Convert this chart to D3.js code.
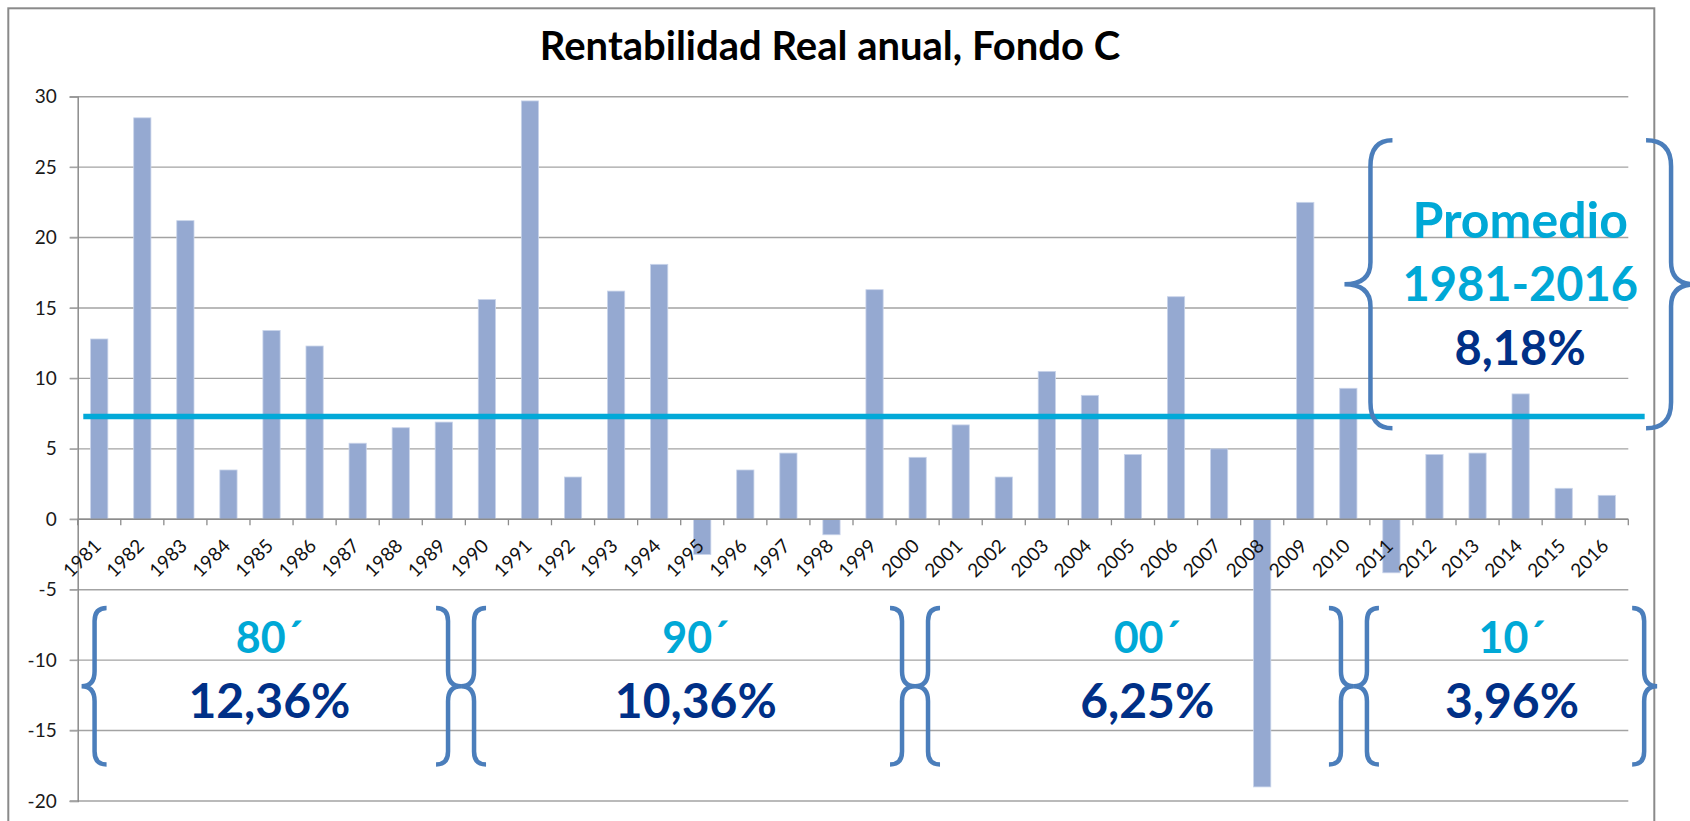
<!DOCTYPE html>
<html>
<head>
<meta charset="utf-8">
<script src="https://cdn.jsdelivr.net/npm/d3@7"></script>
<style>
  body { margin: 0; background: #fff; }
  svg { display: block; }
  text { font-family: Lato, "Open Sans", sans-serif; }
</style>
</head>
<body>
<svg id="chart" width="1690" height="821"></svg>
<script>
// datos
const years = ["1981","1982","1983","1984","1985","1986","1987","1988","1989","1990",
  "1991","1992","1993","1994","1995","1996","1997","1998","1999","2000",
  "2001","2002","2003","2004","2005","2006","2007","2008","2009","2010",
  "2011","2012","2013","2014","2015","2016"];
const rentabilidad = [12.8, 28.5, 21.2, 3.5, 13.4, 12.3, 5.4, 6.5, 6.9, 15.6,
  29.7, 3.0, 16.2, 18.1, -2.5, 3.5, 4.7, -1.1, 16.3, 4.4,
  6.7, 3.0, 10.5, 8.8, 4.6, 15.8, 5.0, -19.0, 22.5, 9.3,
  -3.8, 4.6, 4.7, 8.9, 2.2, 1.7];
const yTicks = [-20, -15, -10, -5, 0, 5, 10, 15, 20, 25, 30];
const lineaPromedio = 7.3;
const decadas = ["80´", "90´", "00´", "10´"];
const promediosDecada = ["12,36%", "10,36%", "6,25%", "3,96%"];
const promedioTotal = ["Promedio", "1981-2016", "8,18%"];
const titulo = "Rentabilidad Real anual, Fondo C";

const svg = d3.select('#chart');
const left = 77.7, right = 1628.3;

const x = d3.scaleBand()
  .domain(years)
  .range([left, right])
  .paddingInner(0.6)
  .paddingOuter(0.3);

// posicion continua en unidades de categoria (para anotaciones)
const xc = d3.scaleLinear().domain([0, years.length]).range([left, right]);

const y = d3.scaleLinear().domain([-20, 30]).range([801, 96.7]);

// marco del grafico
svg.append('rect')
  .attr('x', 8.3).attr('y', 8.3)
  .attr('width', 1646).attr('height', 840)
  .attr('fill', '#fff')
  .attr('stroke', '#8a8a8a')
  .attr('stroke-width', 2);

svg.append('text')
  .attr('x', 830).attr('y', 60)
  .attr('text-anchor', 'middle')
  .attr('font-size', 40)
  .attr('font-weight', 'bold')
  .attr('fill', '#000')
  .text(titulo);

// grilla
svg.append('g')
  .selectAll('line')
  .data(yTicks)
  .enter().append('line')
  .attr('x1', left - 8).attr('x2', right)
  .attr('y1', d => y(d)).attr('y2', d => y(d))
  .attr('stroke', '#a3a3a3')
  .attr('stroke-width', 1.4);

// eje y
const yAxis = svg.append('g')
  .attr('transform', `translate(${left},0)`)
  .call(d3.axisLeft(y).tickValues(yTicks).tickFormat(d => String(d)).tickSize(8).tickPadding(13));
yAxis.select('.domain').attr('stroke', '#8c8c8c').attr('stroke-width', 1.5);
yAxis.selectAll('.tick line').attr('stroke', '#a3a3a3');
yAxis.selectAll('.tick text')
  .attr('font-size', 19)
  .attr('fill', '#1a1a1a')
  .style('font-family', 'Lato, sans-serif');

// barras
svg.append('g')
  .selectAll('rect')
  .data(rentabilidad)
  .enter().append('rect')
  .attr('x', (d, i) => x(years[i]))
  .attr('width', x.bandwidth())
  .attr('y', d => y(Math.max(0, d)))
  .attr('height', d => Math.abs(y(d) - y(0)))
  .attr('fill', '#95a9d1')
  .attr('stroke', '#c9d4ea')
  .attr('stroke-width', 0.8);

// eje x
svg.append('line')
  .attr('x1', left).attr('x2', right)
  .attr('y1', y(0)).attr('y2', y(0))
  .attr('stroke', '#8c8c8c')
  .attr('stroke-width', 1.5);

svg.append('g')
  .selectAll('line')
  .data(d3.range(years.length + 1))
  .enter().append('line')
  .attr('x1', d => xc(d)).attr('x2', d => xc(d))
  .attr('y1', y(0)).attr('y2', y(0) + 6)
  .attr('stroke', '#8c8c8c')
  .attr('stroke-width', 1.3);

svg.append('g')
  .selectAll('text')
  .data(years)
  .enter().append('text')
  .attr('transform', d => `translate(${x(d) + x.bandwidth() / 2 + 3},${y(0) + 28}) rotate(-45)`)
  .attr('text-anchor', 'end')
  .attr('font-size', 19)
  .attr('fill', '#111')
  .text(d => d);

// linea promedio
svg.append('line')
  .attr('x1', xc(0.13)).attr('x2', xc(36.38))
  .attr('y1', y(lineaPromedio)).attr('y2', y(lineaPromedio))
  .attr('stroke', '#02a9d8')
  .attr('stroke-width', 5.5);

// llaves: punta -> tallo -> pico central
function llave(tip, stem, point, y0, y1, rEnd, rMid) {
  const ym = (y0 + y1) / 2;
  return `M${tip},${y0} Q${stem},${y0} ${stem},${y0 + rEnd} L${stem},${ym - rMid} ` +
    `Q${stem},${ym} ${point},${ym} Q${stem},${ym} ${stem},${ym + rMid} ` +
    `L${stem},${y1 - rEnd} Q${stem},${y1} ${tip},${y1}`;
}

const braceG = svg.append('g')
  .attr('fill', 'none')
  .attr('stroke', '#4b7ebb')
  .attr('stroke-width', 4.5);

// llaves de decadas
const limites = [0.09, 8.9, 19.44, 29.63, 36.67];
const yb0 = y(-6.3), yb1 = y(-17.4);
limites.forEach((u, i) => {
  const p = xc(u);
  if (i > 0) braceG.append('path').attr('d', llave(p - 25, p - 13, p, yb0, yb1, 13, 15));
  if (i < limites.length - 1) braceG.append('path').attr('d', llave(p + 25, p + 13, p, yb0, yb1, 13, 15));
});

// llaves del promedio
const yp0 = y(26.9), yp1 = y(6.46);
const pl = xc(29.41), pr = xc(37.55);
braceG.append('path').attr('d', llave(pl + 48, pl + 26, pl, yp0, yp1, 26, 22));
braceG.append('path').attr('d', llave(pr - 49, pr - 24, pr, yp0, yp1, 26, 22));

// textos de decadas
const centros = [4.45, 14.35, 24.83, 33.3];
svg.append('g')
  .selectAll('text')
  .data(decadas)
  .enter().append('text')
  .attr('x', (d, i) => xc(centros[i]))
  .attr('y', y(-9.5))
  .attr('text-anchor', 'middle')
  .attr('font-size', 43)
  .attr('font-weight', 'bold')
  .attr('fill', '#00a8d6')
  .text(d => d);

svg.append('g')
  .selectAll('text')
  .data(promediosDecada)
  .enter().append('text')
  .attr('x', (d, i) => xc(centros[i]))
  .attr('y', y(-14.1))
  .attr('text-anchor', 'middle')
  .attr('font-size', 48)
  .attr('font-weight', 'bold')
  .attr('fill', '#003087')
  .text(d => d);

// texto del promedio total
const baseTotal = [20.0, 15.47, 10.93];
svg.append('g')
  .selectAll('text')
  .data(promedioTotal)
  .enter().append('text')
  .attr('x', xc(33.49))
  .attr('y', (d, i) => y(baseTotal[i]))
  .attr('text-anchor', 'middle')
  .attr('font-size', (d, i) => i === 0 ? 50 : 47)
  .attr('font-weight', 'bold')
  .attr('fill', (d, i) => i < 2 ? '#00a8d6' : '#003087')
  .text(d => d);
</script>
</body>
</html>
